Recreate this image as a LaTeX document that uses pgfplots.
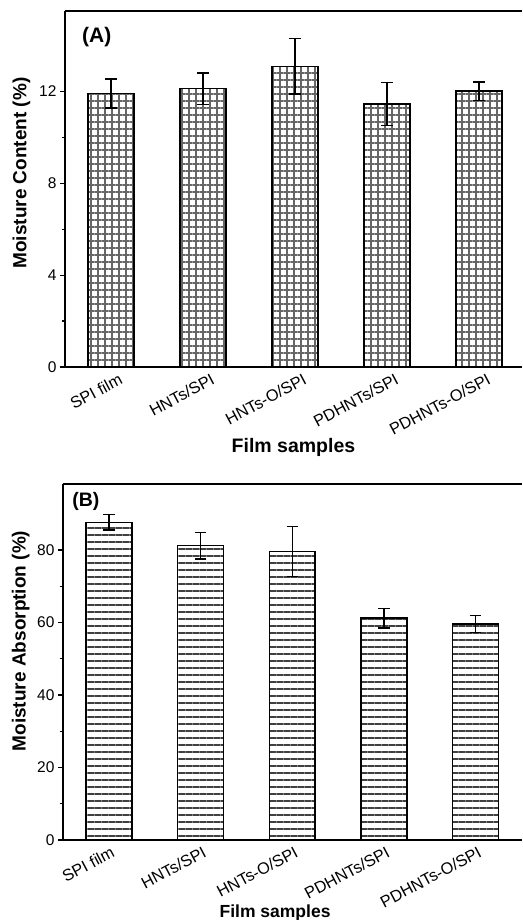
\documentclass[border=0pt]{standalone}
\usepackage{pgfplots}
\pgfplotsset{compat=1.18}
\usepackage{pgfplotstable}
\usepackage{fontspec}
\setmainfont{Liberation Sans}
\usetikzlibrary{patterns.meta}

\pgfplotstableread{
x y e
0 11.91 0.63
1 12.12 0.68
2 13.09 1.20
3 11.46 0.94
4 12.01 0.40
}\dataA

\pgfplotstableread{
x y e
0 87.6 2.1
1 81.2 3.7
2 79.6 6.9
3 61.2 2.7
4 59.6 2.3
}\dataB

\pgfplotsset{
  panel/.style={
    scale only axis,
    axis x line*=box, axis y line*=left,
    axis line style={line width=1.3pt, black},
    xmin=-0.5,
    xtick={0,1,2,3,4},
    xticklabels={SPI film, HNTs/SPI, HNTs-O/SPI, PDHNTs/SPI, PDHNTs-O/SPI},
    x tick style={draw=none},
    xticklabel style={rotate=28, anchor=north east, inner sep=0pt, font=\fontsize{16.3}{19}\selectfont},
    yticklabel style={font=\fontsize{15.5}{18}\selectfont},
    /pgf/number format/assume math mode=true,
    tick align=outside,
    major tick length=5pt, minor tick length=3pt,
    y tick style={line width=1.2pt, black},
    ymin=0,
    minor y tick num=1,
    ylabel style={font=\bfseries\fontsize{19}{22}\selectfont, rotate=0, anchor=south},
    ybar,
  },
}

\begin{document}
\begin{tikzpicture}
\path[use as bounding box] (-65pt,367pt) rectangle (457pt,-553pt);

% Panel A
\begin{axis}[panel,
  at={(0pt,0pt)}, anchor=south west,
  width=457pt, height=356pt,
  xmax=4.467, ymax=15.5,
  ytick={0,4,8,12},
  bar width=46pt,
  ylabel={Moisture Content (\%)},
  ylabel style={at={(axis description cs:-0.068,0.545)}},
  xlabel={Film samples},
  xlabel style={font=\bfseries\fontsize{19.5}{22}\selectfont, at={(axis description cs:0.5,0)}, anchor=base, yshift=-85pt},
  xticklabel style={xshift=6pt, yshift=-4pt},
]
\addplot[draw=black, line width=1.5pt,
  pattern={Hatch[angle=0, distance=7pt, line width=1.4pt]}, pattern color=black!60,
  error bars/.cd, y dir=both, y explicit,
  error bar style={line width=1.3pt, black},
  error mark options={rotate=90, mark size=5.7pt, line width=1.3pt, black}]
  table[x=x, y=y, y error=e] {\dataA};
\node[anchor=north west, inner sep=0pt, font=\bfseries\fontsize{21}{24}\selectfont] at (axis description cs:0.037,0.955) {(A)};
\end{axis}

% Panel B
\begin{axis}[panel,
  at={(-2pt,-473pt)}, anchor=south west,
  width=459pt, height=356pt,
  xmax=4.505, ymax=98.2,
  ytick={0,20,40,60,80},
  bar width=45.9pt,
  ylabel={Moisture Absorption (\%)},
  ylabel style={at={(axis description cs:-0.065,0.559)}},
  xlabel={Film samples},
  xlabel style={font=\bfseries\fontsize{17.5}{20}\selectfont, at={(axis description cs:0.462,0)}, anchor=base, yshift=-77pt},
  xticklabel style={xshift=1pt, yshift=-1pt},
]
\addplot[draw=black, line width=1.5pt,
  pattern={Lines[angle=0, distance=7pt, line width=1.1pt]}, pattern color=black!75,
  error bars/.cd, y dir=both, y explicit,
  error bar style={line width=1.3pt, black},
  error mark options={rotate=90, mark size=5.7pt, line width=1.3pt, black}]
  table[x=x, y=y, y error=e] {\dataB};
\node[anchor=north west, inner sep=0pt, font=\bfseries\fontsize{19.5}{22}\selectfont] at (axis description cs:0.02,0.976) {(B)};
\end{axis}
\end{tikzpicture}
\end{document}
